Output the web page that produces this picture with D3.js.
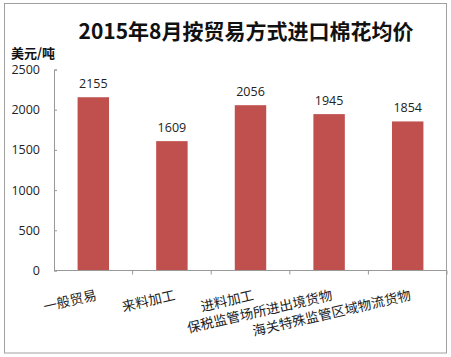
<!DOCTYPE html>
<html><head><meta charset="utf-8">
<script src="https://cdn.jsdelivr.net/npm/d3@7/dist/d3.min.js"></script>
<style>
html,body{margin:0;padding:0;background:#fff;}
svg{display:block;}
</style></head>
<body>
<svg id="c" width="451" height="357"></svg>
<script>
const title = "2015年8月按贸易方式进口棉花均价";
const unitLabel = "美元/吨";
const categories = ["一般贸易","来料加工","进料加工","保税监管场所进出境货物","海关特殊监管区域物流货物"];
const values = [2155,1609,2056,1945,1854];
const yTicks = [0,500,1000,1500,2000,2500];

const svg = d3.select("#c");
const plot = {left:54, right:447, top:69.5, bottom:270.5};

svg.append("rect").attr("x",4.5).attr("y",3.5).attr("width",442).attr("height",349.5)
  .attr("fill","#fff").attr("stroke","#a0a0a0").attr("stroke-width",1);

const x = d3.scaleBand().domain(categories).range([plot.left, plot.right]).paddingInner(0.6).paddingOuter(0.3);
const y = d3.scaleLinear().domain([0,2500]).range([plot.bottom, plot.top]);

// bars
svg.append("g").selectAll("rect").data(values).join("rect")
  .attr("x",(d,i)=>x(categories[i]))
  .attr("y",d=>y(d))
  .attr("width",x.bandwidth())
  .attr("height",d=>y(0)-y(d))
  .attr("fill","#C0504D");

// value labels
svg.append("g").selectAll("text").data(values).join("text")
  .attr("x",(d,i)=>x(categories[i])+x.bandwidth()/2)
  .attr("y",d=>y(d)-9)
  .attr("text-anchor","middle")
  .attr("font-family","'Open Sans','Noto Sans',sans-serif")
  .attr("font-size",12.5)
  .attr("fill","#222")
  .text(d=>d);

// y axis
const ya = svg.append("g").attr("transform",`translate(${plot.left},0)`)
  .call(d3.axisLeft(y).tickValues(yTicks).tickFormat(d3.format("d")).tickSizeInner(-3).tickSizeOuter(-3).tickPadding(14));
ya.select(".domain").attr("stroke","#999");
ya.selectAll(".tick line").attr("stroke","#999");
ya.selectAll(".tick text").attr("font-family","'Open Sans','Noto Sans',sans-serif").attr("font-size",12.5).attr("fill","#222");

// x axis line
const edges = d3.range(categories.length+1).map(i=> plot.left + i*x.step());
svg.append("line").attr("x1",plot.left).attr("x2",plot.right).attr("y1",y(0)).attr("y2",y(0))
  .attr("stroke","#999");
svg.append("g").selectAll("line").data(edges.slice(1)).join("line")
  .attr("x1",d=>d).attr("x2",d=>d).attr("y1",y(0)).attr("y2",y(0)+4).attr("stroke","#999");

// category labels
svg.append("g").selectAll("text").data(categories).join("text")
  .attr("transform",d=>`translate(${x(d)+x.bandwidth()/2+4},${y(0)+29}) rotate(-13)`)
  .attr("text-anchor","end")
  .attr("font-family","'Noto Sans CJK SC',sans-serif")
  .attr("font-size",13.5)
  .attr("fill","#222")
  .text(d=>d);

// title
svg.append("text").attr("x",246).attr("y",39).attr("text-anchor","middle")
  .attr("font-family","'Noto Sans CJK SC',sans-serif").attr("font-weight","bold")
  .attr("font-size",21).attr("fill","#111").text(title);

// unit
svg.append("text").attr("x",11).attr("y",58)
  .attr("font-family","'Noto Sans CJK SC',sans-serif").attr("font-weight","bold")
  .attr("font-size",13).attr("fill","#111").text(unitLabel);
</script>
</body></html>
